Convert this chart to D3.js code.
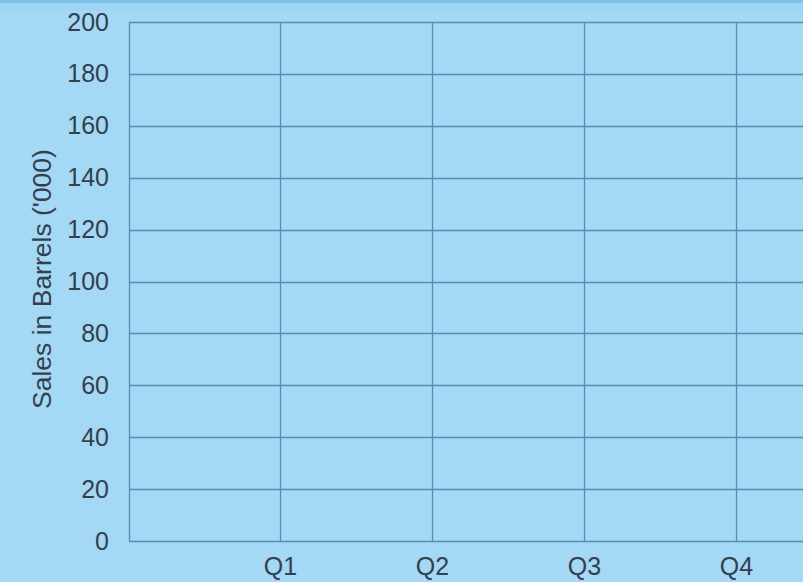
<!DOCTYPE html>
<html lang="en">
<head>
    <meta charset="UTF-8">
    <title>Sales in Barrels</title>
    <script src="https://d3js.org/d3.v7.min.js"></script>
    <style>
        html, body { margin: 0; padding: 0; background: #a3d9f5; }
        svg { display: block; }
        .tick text { font-family: "Liberation Sans", Arial, sans-serif; font-size: 25px; fill: #34404c; }
    </style>
</head>
<body>
    <div id="chart"></div>
    <script>
        // Chart data (quarters shown, no series plotted)
        var quarters = ["Q1", "Q2", "Q3", "Q4"];
        var quarterPos = [1, 2, 3, 4];
        var yTicks = [0, 20, 40, 60, 80, 100, 120, 140, 160, 180, 200];

        var width = 803, height = 582;
        var plotLeft = 129, plotTop = 22, plotBottom = 541;

        var svg = d3.select("#chart").append("svg")
            .attr("width", width)
            .attr("height", height);

        svg.append("rect").attr("width", width).attr("height", height).attr("fill", "#a3d9f5");
        // top strip
        svg.append("rect").attr("width", width).attr("height", 3).attr("fill", "#7cc3eb");
        svg.append("rect").attr("y", 3).attr("width", width).attr("height", 8).attr("fill", "#9dd5f3");

        var x = d3.scaleLinear().domain([0, 4.5]).range([128, 128 + 152 * 4.5]);
        var y = d3.scaleLinear().domain([0, 200]).range([plotBottom, plotTop]);

        var gridColor = "#4f8fb0";

        // horizontal grid
        svg.append("g")
            .selectAll("line")
            .data(yTicks)
            .join("line")
            .attr("x1", plotLeft).attr("x2", width)
            .attr("y1", d => Math.round(y(d)) + 0.5).attr("y2", d => Math.round(y(d)) + 0.5)
            .attr("stroke", gridColor).attr("stroke-width", 1.3);

        // vertical grid
        svg.append("g")
            .selectAll("line")
            .data(quarterPos)
            .join("line")
            .attr("x1", d => Math.round(x(d)) + 0.5).attr("x2", d => Math.round(x(d)) + 0.5)
            .attr("y1", plotTop).attr("y2", plotBottom)
            .attr("stroke", gridColor).attr("stroke-width", 1.3);

        // left axis line
        svg.append("line")
            .attr("x1", plotLeft + 0.5).attr("x2", plotLeft + 0.5)
            .attr("y1", plotTop).attr("y2", plotBottom)
            .attr("stroke", gridColor).attr("stroke-width", 1.3);

        var yAxis = svg.append("g")
            .attr("transform", "translate(" + plotLeft + ",0)")
            .call(d3.axisLeft(y).tickValues(yTicks).tickSize(0).tickPadding(20));
        yAxis.select(".domain").remove();

        var xAxis = svg.append("g")
            .attr("transform", "translate(0," + plotBottom + ")")
            .call(d3.axisBottom(x).tickValues(quarterPos).tickFormat((d, i) => quarters[i]).tickSize(0).tickPadding(16));
        xAxis.select(".domain").remove();

        svg.append("text")
            .attr("transform", "translate(51,279) rotate(-90)")
            .attr("text-anchor", "middle")
            .style("font-family", "'Liberation Sans', Arial, sans-serif")
            .style("font-size", "26.5px")
            .attr("fill", "#34404c")
            .text("Sales in Barrels ('000)");
    </script>
</body>
</html>
